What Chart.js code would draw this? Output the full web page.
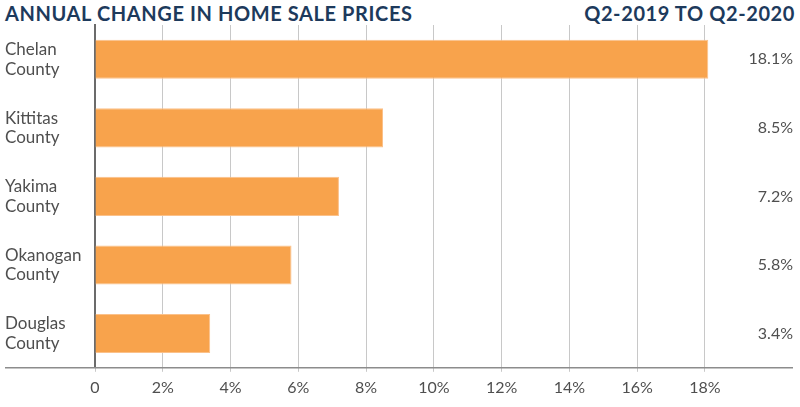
<!DOCTYPE html>
<html>
<head>
<meta charset="utf-8">
<script src="https://cdn.jsdelivr.net/npm/chart.js@4.4.0/dist/chart.umd.min.js"></script>
<style>
  html, body { margin: 0; padding: 0; background: #fff; }
  #wrap { position: relative; width: 800px; height: 407px; font-family: Lato, sans-serif; }
  .title { position: absolute; top: 1px; font-size: 20px; font-weight: 700; color: #1d3a5c; letter-spacing: 0.6px; }
  #titleLeft { left: 5px; }
  #titleRight { right: 5px; }
  canvas { position: absolute; left: 0; top: 0; }
</style>
</head>
<body>
<div id="wrap">
  <div class="title" id="titleLeft">ANNUAL CHANGE IN HOME SALE PRICES</div>
  <div class="title" id="titleRight">Q2-2019 TO Q2-2020</div>
  <canvas id="chart" width="800" height="407"></canvas>
</div>
<script>
const counties = [['Chelan', 'County'], ['Kittitas', 'County'], ['Yakima', 'County'], ['Okanogan', 'County'], ['Douglas', 'County']];
const priceChange = [18.1, 8.5, 7.2, 5.8, 3.4];
const xTicks = [0, 2, 4, 6, 8, 10, 12, 14, 16, 18];

const barColor = '#f8a34c';
const textColor = '#4f4f4f';

// value labels at the right edge, and the bottom rule under everything
const valueLabels = {
    id: 'valueLabels',
    afterDraw(chart) {
        const ctx = chart.ctx;
        const area = chart.chartArea;
        const meta = chart.getDatasetMeta(0);
        ctx.save();
        ctx.strokeStyle = '#8c8c8c';
        ctx.lineWidth = 1.5;
        ctx.beginPath();
        ctx.moveTo(5, area.bottom);
        ctx.lineTo(793, area.bottom);
        ctx.stroke();

        ctx.fillStyle = textColor;
        ctx.font = '16px Lato, sans-serif';
        ctx.textAlign = 'right';
        ctx.textBaseline = 'middle';
        meta.data.forEach((bar, i) => {
            ctx.fillText(priceChange[i].toFixed(1) + '%', 793, bar.y);
        });
        ctx.restore();
    }
};

new Chart(document.getElementById('chart'), {
    type: 'bar',
    data: {
        labels: counties,
        datasets: [{
            data: priceChange,
            backgroundColor: barColor,
            borderColor: '#fbc18a',
            borderWidth: 1,
            categoryPercentage: 1,
            barPercentage: 0.57
        }]
    },
    options: {
        indexAxis: 'y',
        responsive: false,
        animation: false,
        layout: { padding: { left: 5, right: 7, top: 25, bottom: 4 } },
        plugins: {
            legend: { display: false },
            tooltip: { enabled: false }
        },
        scales: {
            x: {
                min: 0,
                max: 20.6,
                afterBuildTicks: scale => { scale.ticks = xTicks.map(v => ({ value: v })); },
                grid: { color: '#c8c8c8', lineWidth: 1, tickLength: 4 },
                border: { display: false },
                ticks: {
                    color: textColor,
                    font: { family: 'Lato, sans-serif', size: 16 },
                    padding: 6,
                    maxRotation: 0,
                    callback: v => v === 0 ? '0' : v + '%'
                }
            },
            y: {
                grid: { display: false },
                border: { display: true, color: '#6b6b6b', width: 2 },
                afterFit: scale => { scale.width = 90; },
                ticks: {
                    color: textColor,
                    crossAlign: 'far',
                    font: { family: 'Lato, sans-serif', size: 17, lineHeight: 1.15 },
                    padding: 0
                }
            }
        }
    },
    plugins: [valueLabels]
});
</script>
</body>
</html>
